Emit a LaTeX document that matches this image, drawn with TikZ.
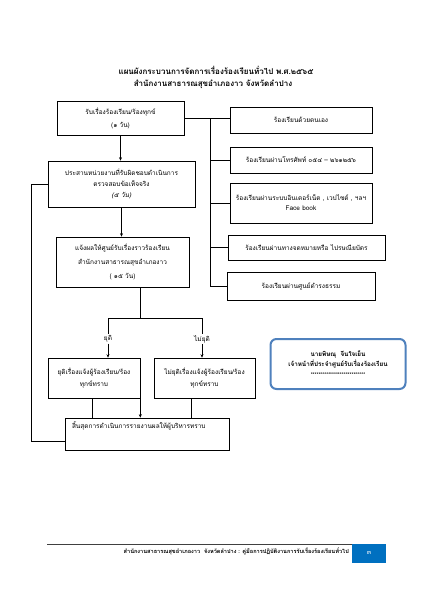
\documentclass[tikz,border=0pt]{standalone}
\usepackage{fontspec}
\newfontfamily\thai[Script=Thai]{Loma}
\usetikzlibrary{arrows.meta,calc}
\definecolor{sigblue}{RGB}{79,129,189}
\definecolor{pageblue}{RGB}{0,112,192}
\begin{document}
\begin{tikzpicture}[x=1pt,y=-1pt,
  every node/.style={font=\thai\fontsize{6.5}{8}\selectfont},
  box/.style={draw=black, line width=0.6pt, fill=white, align=center, inner sep=0pt},
  conn/.style={draw=black, line width=0.6pt},
  arr/.style={conn, -{Stealth[length=3.5pt,width=3pt]}},
  ttl/.style={font=\thai\bfseries\fontsize{8}{10}\selectfont},
  sig/.style={draw=sigblue, line width=2pt, rounded corners=6pt, fill=white, align=center, inner sep=0pt,
    font=\thai\bfseries\fontsize{6.3}{10}\selectfont}]
\useasboundingbox (0,0) rectangle (424,600);
% titles
\node[ttl] (t1) at (216,70) {แผนผังกระบวนการจัดการเรื่องร้องเรียนทั่วไป พ.ศ.๒๕๖๕};
\node[ttl] (t2) at (213,84) {สำนักงานสาธารณสุขอำเภองาว จังหวัดลำปาง};
% main column
\node[box, minimum width=127pt, minimum height=34pt] (A) at (120.5,118) {รับเรื่องร้องเรียน/ร้องทุกข์\\[5pt](๑ วัน)};
\node[box, minimum width=147pt, minimum height=46pt] (B) at (121.5,184) {ประสานหน่วยงานที่รับผิดชอบดำเนินการ\\[3pt]ตรวจสอบข้อเท็จจริง\\[3pt]{\itshape(๕ วัน)}};
\node[box, minimum width=133pt, minimum height=50pt] (C) at (122.5,262) {แจ้งผลให้ศูนย์รับเรื่องราวร้องเรียน\\[6pt]สำนักงานสาธารณสุขอำเภองาว\\[6pt]( ๑๕ วัน)};
% right column
\node[box, minimum width=142pt, minimum height=26pt] (R1) at (301,120) {ร้องเรียนด้วยตนเอง};
\node[box, minimum width=142pt, minimum height=26pt] (R2) at (301,160) {ร้องเรียนผ่านโทรศัพท์ ๐๕๔ – ๒๖๑๒๕๖};
\node[box, minimum width=142pt, minimum height=40pt] (R3) at (301,203) {ร้องเรียนผ่านระบบอินเตอร์เน็ต , เวปไซต์ , ฯลฯ\\[2pt]Face book};
\node[box, minimum width=157pt, minimum height=25pt] (R4) at (306.5,247.5) {ร้องเรียนผ่านทางจดหมายหรือ ไปรษณียบัตร};
\node[box, minimum width=148pt, minimum height=28pt] (R5) at (301,286) {ร้องเรียนผ่านศูนย์ดำรงธรรม};
% decision
\node[inner sep=1pt] (ly) at (108,339) {ยุติ};
\node[inner sep=1pt] (ln) at (202,339) {ไม่ยุติ};
\node[box, minimum width=92pt, minimum height=40pt] (D) at (94,378) {ยุติเรื่องแจ้งผู้ร้องเรียน/ร้อง\\[4pt]ทุกข์ทราบ};
\node[box, minimum width=101pt, minimum height=40pt] (E) at (204.5,378) {ไม่ยุติเรื่องแจ้งผู้ร้องเรียน/ร้อง\\[4pt]ทุกข์ทราบ};
\node[box, minimum width=164pt, minimum height=32pt, align=left, text width=150pt] (F) at (147,434) {สิ้นสุดการดำเนินการรายงานผลให้ผู้บริหารทราบ\\[9pt]\mbox{}};
% signature
\node[sig, minimum width=135pt, minimum height=50pt] (S) at (338,364) {นายพิษณุ\ \ จีนใจเย็น\\เจ้าหน้าที่ประจำศูนย์รับเรื่องร้องเรียน\\{\fontsize{5}{6}\selectfont ****************************}};
% footer
\node[fill=pageblue, minimum width=34pt, minimum height=19pt, inner sep=0pt, text=white] (pg) at (369,553) {๓};
\node[anchor=east, inner sep=0pt, font=\thai\bfseries\fontsize{5.6}{7}\selectfont] (ft) at (349,551) {สำนักงานสาธารณสุขอำเภองาว\ \ จังหวัดลำปาง : คู่มือการปฏิบัติงานการรับเรื่องร้องเรียนทั่วไป};
\coordinate (fl) at (47,544);
\draw[draw=black!75, line width=0.7pt] (fl) -- (fl -| pg.west);
% connectors
\coordinate (bus) at (210,0);
\coordinate (lx) at (31,0);
\coordinate (br) at (140,318);
\draw[conn] (A.east) -- (A.east -| R1.west);
\draw[conn] (A.east -| bus) |- (R5.west);
\foreach \r in {R2,R3,R4} \draw[conn] (bus |- \r.west) -- (\r.west);
\draw[arr] (A.south) -- (A.south |- B.north);
\draw[arr] (B.south) -- (B.south |- C.north);
\draw[conn] (B.west) -- (B.west -| lx) |- ($(F.west)+(0,7)$);
\draw[conn] (C.south -| br) -- (br);
\draw[conn] (ly |- br) -- (ln |- br);
\draw[conn] (ly |- br) -- (ly.north);
\draw[conn] (ln |- br) -- (ln.north);
\draw[arr] (ly.south) -- (ly.south |- D.north);
\draw[arr] (ln.south) -- (ln.south |- E.north);
\draw[conn] ($(D.south west)!0.48!(D.south east)$) coordinate (d1) -- (d1 |- F.north);
\draw[conn] ($(E.south west)!0.37!(E.south east)$) coordinate (e1) -- (e1 |- F.north);
\draw[arr] (D.south east) -- (D.south east |- F.north);
\end{tikzpicture}
\end{document}
